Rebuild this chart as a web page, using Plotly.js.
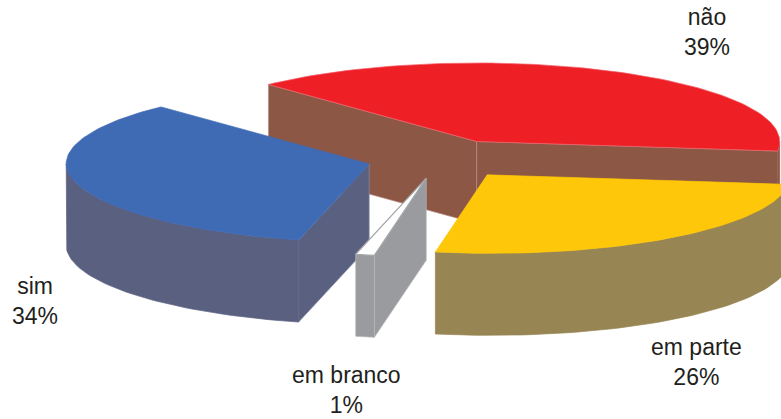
<!DOCTYPE html>
<html>
<head>
<meta charset="utf-8">
<script src="https://cdn.plot.ly/plotly-3.0.1.min.js"></script>
<style>html,body{margin:0;padding:0;background:#fff}#chart{width:781px;height:419px}</style>
</head>
<body>
<div id="chart"></div>
<script>
// Survey answers, in pie order (clockwise from the start angle)
const categories = ['não', 'em parte', 'em branco', 'sim'];
const shares = [39, 26, 1, 34];

// Per-slice colours
const topColors = ['#EF1F26', '#FFC709', '#FFFFFF', '#3F6AB4'];
const sideColors = ['#8C5745', '#978553', '#999B9E', '#5A607F'];
const edgeColors = ['#B98A7C', '#978553', '#B4B6B9', '#8A8FA8'];
const topEdges = ['#F0606A', '#FFC709', '#A4A6A9', '#3F6AB4'];

// Label anchors
const labelX = [706.5, 696, 346, 35];
const labelY = [32, 362, 390, 301];

// Pie projection; frontSkew leans the near half of the rim to the right
const startAngle = 316.6, centerX = 442.5, centerY = 159;
const radiusX = 303, radiusY = 78.5, depth = 82, explode = 0.25, frontSkew = 0.05;

const rad = d => d * Math.PI / 180;
const total = shares.reduce((a, b) => a + b, 0);
const traces = [];

function face(xs, ys, fill, edge, width) {
  traces.push({
    type: 'scatter', mode: 'lines', x: [...xs, xs[0]], y: [...ys, ys[0]],
    fill: 'toself', fillcolor: fill, hoverinfo: 'skip', showlegend: false,
    line: {color: edge || fill, width: width || 0.7}
  });
}

// Build slice geometry from the shares
let cursor = startAngle;
const slices = shares.map((share, i) => {
  const a0 = cursor, a1 = cursor + share / total * 360;
  cursor = a1;
  const mid = rad((a0 + a1) / 2);
  const ax = centerX + explode * radiusX * Math.sin(mid);
  const ay = centerY - explode * radiusY * Math.cos(mid);
  const drop = a => -radiusY * Math.cos(rad(a));
  const px = a => ax + radiusX * Math.sin(rad(a)) + frontSkew * Math.max(drop(a), 0);
  const py = a => ay + drop(a);
  return {i, a0, a1, ax, ay, px, py};
});

function arc(from, to) {
  const n = Math.max(2, Math.ceil((to - from) / 1.5));
  const out = [];
  for (let k = 0; k <= n; k++) out.push(from + (to - from) * k / n);
  return out;
}

function drawSlice(s) {
  const fill = sideColors[s.i], edge = edgeColors[s.i];
  const norm = a => ((a % 360) + 360) % 360;
  const startN = norm(s.a0), endN = startN + (s.a1 - s.a0);

  // Radial walls that face the viewer
  const wall = a => {
    const x = s.px(a), y = s.py(a);
    face([s.ax, x, x, s.ax], [s.ay, y, y + depth, s.ay + depth], fill, edge);
  };
  if (s.i === 0) { wall(s.a0); wall(s.a1); }
  if (s.i === 2 || s.i === 3) wall(s.a0);

  // Outer curved wall: only the front half of the ellipse shows
  for (const [lo, hi] of [[90, 270], [450, 630]]) {
    const from = Math.max(startN, lo), to = Math.min(endN, hi);
    if (to > from) {
      const as = arc(from, to);
      const xs = as.map(s.px), ys = as.map(s.py);
      face([...xs, ...xs.slice().reverse()],
           [...ys, ...ys.slice().reverse().map(y => y + depth)], fill, s.i === 2 ? edge : fill);
    }
  }

  // Top face
  const as = arc(s.a0, s.a1);
  face([s.ax, ...as.map(s.px)], [s.ay, ...as.map(s.py)], topColors[s.i], topEdges[s.i], s.i === 2 ? 1.2 : 0.7);
}

// Painter's order, back to front
[0, 3, 2, 1].forEach(i => drawSlice(slices[i]));

const annotations = categories.map((c, i) => ({
  x: labelX[i], y: labelY[i], xref: 'x', yref: 'y', showarrow: false,
  text: c + '<br>' + shares[i] + '%', align: 'center',
  font: {family: '"Liberation Sans", Arial, sans-serif', size: 23, color: '#231F20'}
}));

Plotly.newPlot('chart', traces, {
  width: 781, height: 419, margin: {l: 0, r: 0, t: 0, b: 0},
  paper_bgcolor: '#fff', plot_bgcolor: '#fff', showlegend: false,
  xaxis: {range: [0, 781], visible: false, fixedrange: true},
  yaxis: {range: [419, 0], visible: false, fixedrange: true},
  annotations
}, {displayModeBar: false, staticPlot: true});
</script>
</body>
</html>
